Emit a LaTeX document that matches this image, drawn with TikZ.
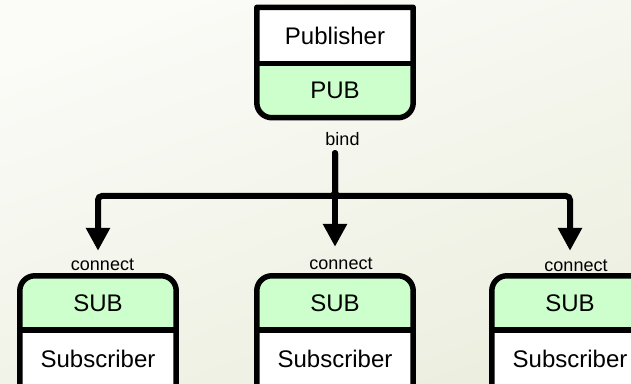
\documentclass[tikz,border=0pt]{standalone}
\usepackage{fontspec}
\setmainfont{Liberation Sans}
\usetikzlibrary{arrows.meta}
\definecolor{socketgreen}{RGB}{204,255,204}
\definecolor{paperlight}{RGB}{251,251,247}
\definecolor{paperdark}{RGB}{236,239,224}
\pgfdeclarelayer{bg}
\pgfsetlayers{bg,main}
\tikzset{
  section/.style={minimum width=156pt, inner sep=0pt, font=\fontsize{24}{28}\selectfont},
  tag/.style={font=\fontsize{18}{21}\selectfont, inner sep=0pt, anchor=base},
  outline/.style={line width=5.5pt, line join=round},
  wire/.style={line width=6pt, line cap=round, rounded corners=4pt,
    -{Triangle[length=23pt,width=23pt]}},
}
\begin{document}
\begin{tikzpicture}[x=1pt,y=1pt]
\useasboundingbox (0,0) rectangle (631,383);
\begin{pgfonlayer}{bg}
  \shade[top color=paperlight, bottom color=paperdark, shading angle=20]
    (0,0) rectangle (631,383);
\end{pgfonlayer}

% publisher: name on top, PUB socket below, bottom corners rounded
\node[section, minimum height=56pt] (pub) at (335,347.5) {Publisher};
\node[section, minimum height=54pt] (pubsock) at (335,292.5) {PUB};
\begin{pgfonlayer}{bg}
  \fill[white] (pub.south west) rectangle (pub.north east);
  \fill[socketgreen] (pubsock.north west) -- (pubsock.north east)
    -- ([yshift=15pt]pubsock.south east) arc[start angle=0, end angle=-90, radius=15pt]
    -- ([xshift=15pt]pubsock.south west) arc[start angle=270, end angle=180, radius=15pt]
    -- cycle;
\end{pgfonlayer}
\draw[outline] (pub.north west) -- (pub.north east)
  -- ([yshift=15pt]pubsock.south east) arc[start angle=0, end angle=-90, radius=15pt]
  -- ([xshift=15pt]pubsock.south west) arc[start angle=270, end angle=180, radius=15pt]
  -- cycle;
\draw[outline] (pub.south west) -- (pub.south east);
\node[tag] (bind) at ([xshift=7.5pt, yshift=-27.5pt]pubsock.south) {bind};

% subscribers: SUB socket on top, rounded top corners
\foreach \n/\x in {L/98, M/335, R/570} {
  \node[section, minimum height=54pt] (sub\n) at (\x,80) {SUB};
  \node[section, minimum height=57pt] (subname\n) at (\x,24.5) {Subscriber};
  \begin{pgfonlayer}{bg}
    \fill[white] (subname\n.south west) rectangle (subname\n.north east);
    \fill[socketgreen] (sub\n.south west)
      -- ([yshift=-15pt]sub\n.north west) arc[start angle=180, end angle=90, radius=15pt]
      -- ([xshift=-15pt]sub\n.north east) arc[start angle=90, end angle=0, radius=15pt]
      -- (sub\n.south east) -- cycle;
  \end{pgfonlayer}
  \draw[outline] (subname\n.south west)
    -- ([yshift=-15pt]sub\n.north west) arc[start angle=180, end angle=90, radius=15pt]
    -- ([xshift=-15pt]sub\n.north east) arc[start angle=90, end angle=0, radius=15pt]
    -- (subname\n.south east) -- cycle;
  \draw[outline] (sub\n.south west) -- (sub\n.south east);
}
\node[tag] (connL) at ([xshift=4.5pt, yshift=5pt]subL.north) {connect};
\node[tag] (connM) at ([xshift=6pt, yshift=6pt]subM.north) {connect};
\node[tag] (connR) at ([xshift=6pt, yshift=4pt]subR.north) {connect};

% bind/connect wiring
\coordinate (tap) at ([yshift=-35.5pt]pubsock.south);
\coordinate (bus) at (0,187);
\draw[wire, shorten >=29pt] (tap) -- (subM.north);
\draw[wire, shorten >=25pt] (tap) -- (tap |- bus) -| (subL.north);
\draw[wire, shorten >=25pt] (tap) -- (tap |- bus) -| (subR.north);
\end{tikzpicture}
\end{document}
